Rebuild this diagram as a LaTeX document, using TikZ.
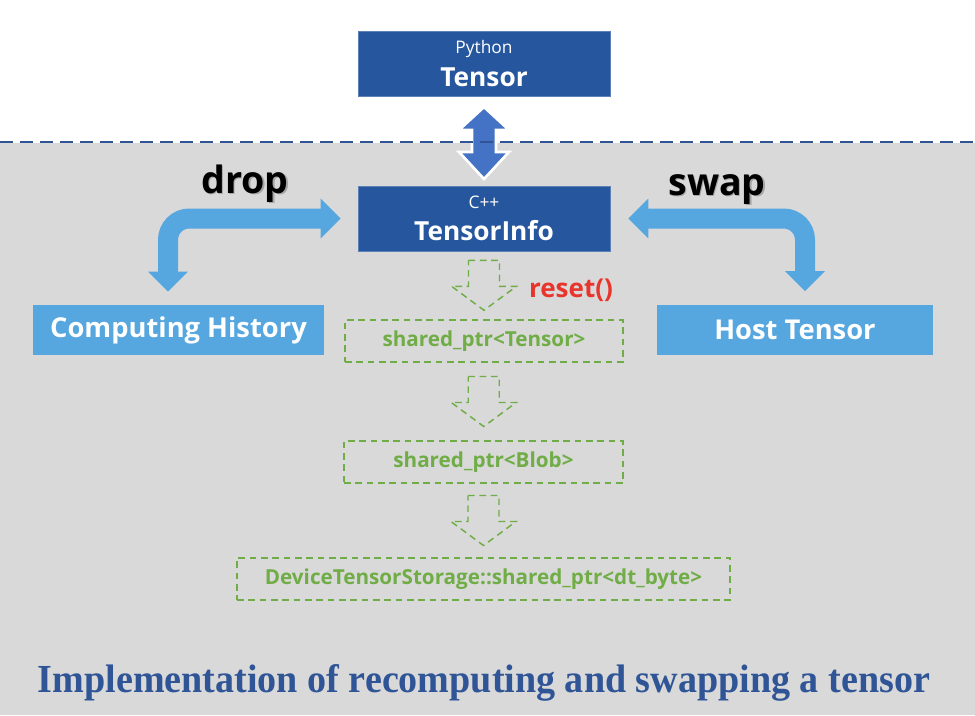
\documentclass[tikz,border=0pt]{standalone}
\usepackage{fontspec}
\usepackage{graphicx}
\setmainfont{Open Sans}
\newfontfamily\titlefont{Liberation Serif}
\usetikzlibrary{arrows.meta,calc}

\definecolor{boxblue}{RGB}{38,87,158}
\definecolor{sideblue}{RGB}{86,166,223}
\definecolor{arrowblue}{RGB}{68,114,196}
\definecolor{ptrgreen}{RGB}{112,173,71}
\definecolor{resetred}{RGB}{232,52,42}
\definecolor{titleblue}{RGB}{47,85,151}
\definecolor{bggray}{RGB}{217,217,217}

\tikzset{
  infobox/.style={fill=boxblue, draw=boxblue!75!white, text=white, align=center,
    minimum width=189pt, minimum height=48.75pt, inner sep=0pt,
    font=\fontsize{19.7}{24.5}\selectfont},
  sidebox/.style={fill=sideblue, text=white, minimum height=37.5pt, inner sep=0pt,
    font=\bfseries\fontsize{20.5}{24}\selectfont},
  ptrbox/.style={draw=ptrgreen, line width=1.1pt, dash pattern=on 5pt off 3.5pt,
    text=ptrgreen, minimum height=31.5pt, inner sep=0pt,
    font=\bfseries\fontsize{15.5}{18}\selectfont},
  actlabel/.style={anchor=base, font=\bfseries\fontsize{28.2}{32}\selectfont},
  bentarrow/.style={draw=sideblue, line width=15pt, rounded corners=16pt,
    {Triangle[width=29pt,length=15pt]}-{Triangle[width=29pt,length=15pt]}},
  sepline/.style={draw=titleblue, line width=2.2pt, dash pattern=on 10pt off 5pt},
  pics/dblarrow/.style={code={
    \filldraw[fill=arrowblue, draw=white, line width=2pt]
      (0,-34) -- (25,-11) -- (12,-11) -- (12,11) -- (25,11) -- (0,38)
      -- (-25,11) -- (-12,11) -- (-12,-11) -- (-25,-11) -- cycle;}},
  pics/hollowdown/.style={code={
    \draw[draw=ptrgreen, line width=1.1pt, dash pattern=on 5pt off 3.5pt]
      (-15.5,-25) -- (15.5,-25) -- (15.5,1) -- (32.5,1) -- (0,25)
      -- (-32.5,1) -- (-15.5,1) -- cycle;}}
}

\begin{document}
\begin{tikzpicture}[x=0.75pt, y=-0.75pt]
  \useasboundingbox (0,0) rectangle (975,715);
  \fill[bggray] (0,143) rectangle (975,715);

  % the two tensor boxes
  \node[infobox] (py) at (484,63.5)
    {{\fontsize{13}{15}\selectfont Python}\\{\bfseries Tensor}};
  \node[infobox] (info) at (484,218.5)
    {{\fontsize{13}{15}\selectfont C++}\\{\bfseries TensorInfo}};

  \pic at ($(py.south)!0.5!(info.north)$) {dblarrow};
  \draw[sepline] (0,142) -- (975,142);

  % drop / swap
  \node[sidebox, minimum width=218.25pt] (hist) at (178.5,330) {Computing History};
  \node[sidebox, minimum width=207pt] (host) at (795,329.5) {Host Tensor};

  \draw[bentarrow] ([shift={(-10.5,-13)}]hist.north) |- ([xshift=-12.75pt]info.west);
  \draw[bentarrow] ([shift={(10,-13)}]host.north) |- ([xshift=13.5pt]info.east);

  \node[actlabel, text=black!35] (dropshade) at (246.5,194.5) {drop};
  \node[actlabel] (drop) at (245,193) {drop};
  \node[actlabel, text=black!35] (swapshade) at (718.5,196.5) {swap};
  \node[actlabel] (swap) at (717,195) {swap};

  % pointer chain
  \node[ptrbox, minimum width=208.5pt] (ptrT) at (484,341) {shared\_ptr<Tensor>};
  \node[ptrbox, minimum width=209.25pt] (blob) at (483.5,462) {shared\_ptr<Blob>};
  \node[ptrbox, minimum width=369.75pt] (store) at (483.5,579)
    {DeviceTensorStorage::shared\_ptr<dt\_byte>};

  \pic at ($(info.south)!0.5!(ptrT.north)$) {hollowdown};
  \pic at ($(ptrT.south)!0.5!(blob.north)$) {hollowdown};
  \pic at ($(blob.south)!0.5!(store.north)$) {hollowdown};

  \node[anchor=base, text=resetred, font=\bfseries\fontsize{19.5}{22}\selectfont]
    (reset) at (571,297) {reset()};

  \node[anchor=base, text=titleblue, font=\titlefont\bfseries] (title) at (484,692)
    {\resizebox{669pt}{21pt}{Implementation of recomputing and swapping a tensor}};
\end{tikzpicture}
\end{document}
